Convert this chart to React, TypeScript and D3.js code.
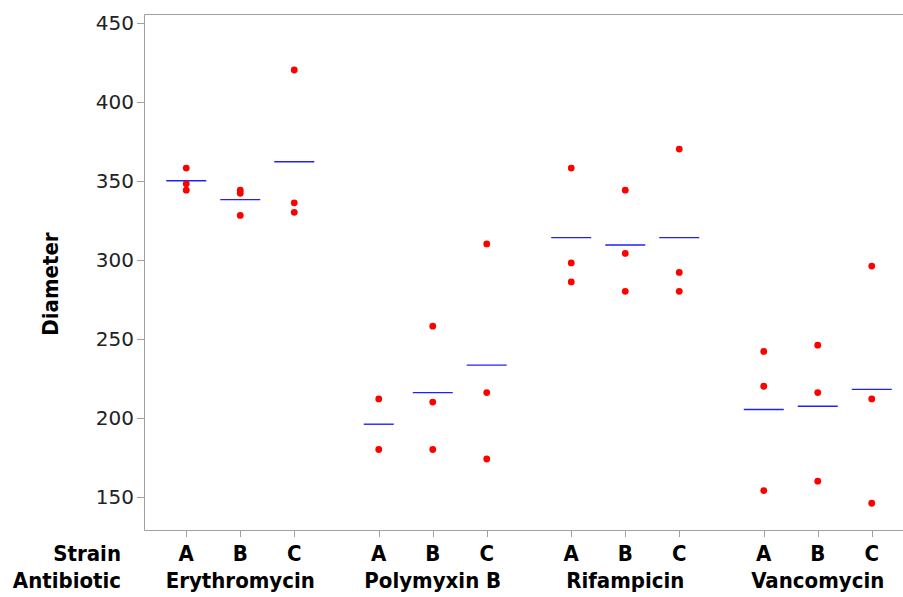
import React, { useEffect, useRef } from 'react';
import * as d3 from 'd3';

const antibiotics = ['Erythromycin', 'Polymyxin B', 'Rifampicin', 'Vancomycin'];
const strains = ['A', 'B', 'C'];

// diameter readings per antibiotic, per strain
const erythromycin = [[358, 348, 344], [344, 342, 328], [420, 336, 330]];
const polymyxinB = [[212, 180], [258, 210, 180], [310, 216, 174]];
const rifampicin = [[358, 298, 286], [344, 304, 280], [370, 292, 280]];
const vancomycin = [[242, 220, 154], [246, 216, 160], [296, 212, 146]];

const yTicks = [150, 200, 250, 300, 350, 400, 450];

const App = () => {
  const svgRef = useRef<SVGSVGElement>(null);

  useEffect(() => {
    document.body.style.margin = '0';
    const W = 903;
    const margin = { top: 14, left: 144, bottom: 530 };

    const svg = d3.select(svgRef.current);
    svg.selectAll('*').remove();

    const readings = [erythromycin, polymyxinB, rifampicin, vancomycin];
    const rows: { ab: string; strain: string; values: number[] }[] = [];
    antibiotics.forEach((ab, i) => {
      strains.forEach((s, j) => rows.push({ ab, strain: s, values: readings[i][j] }));
    });

    const y = d3.scaleLinear().domain([129.1, 455.4]).range([margin.bottom, margin.top]);
    const xGroup = d3.scaleBand().domain(antibiotics).range([margin.left, margin.left + 4 * 192.5]);
    const xStrain = d3.scalePoint().domain(strains).range([-54, 54]);
    const xPos = (ab: string, s: string) => xGroup(ab)! + xGroup.bandwidth() / 2 + xStrain(s)!;

    const font = 'DejaVu Sans, Verdana, sans-serif';
    const condensed = '"DejaVu Sans Condensed", "DejaVu Sans", sans-serif';
    const frame = '#a0a0a0';

    // frame: top, left and bottom (no right edge)
    svg.append('path')
      .attr('d', `M${W},${margin.top + 0.5}H${margin.left + 0.5}V${margin.bottom + 0.5}H${W}`)
      .attr('fill', 'none')
      .attr('stroke', frame)
      .attr('stroke-width', 1);

    // y axis ticks + labels
    const yAxis = svg.append('g');
    yAxis.selectAll('line').data(yTicks).enter().append('line')
      .attr('x1', margin.left - 7).attr('x2', margin.left)
      .attr('y1', d => Math.round(y(d)) + 0.5).attr('y2', d => Math.round(y(d)) + 0.5)
      .attr('stroke', frame);
    yAxis.selectAll('text').data(yTicks).enter().append('text')
      .attr('x', margin.left - 10).attr('y', d => y(d))
      .attr('dy', '0.36em')
      .attr('text-anchor', 'end')
      .attr('font-family', font).attr('font-size', 20).attr('fill', '#222')
      .text(d => d);

    const label = (sel: any, size: number) => sel
      .attr('font-family', condensed).attr('font-stretch', 'condensed')
      .attr('font-size', size).attr('font-weight', 'bold').attr('fill', '#000');

    svg.append('text')
      .attr('transform', `translate(58,${284}) rotate(-90)`)
      .attr('text-anchor', 'middle')
      .call(label, 22)
      .text('Diameter');

    // x ticks
    svg.selectAll('.xtick').data(rows).enter().append('line')
      .attr('class', 'xtick')
      .attr('x1', d => Math.round(xPos(d.ab, d.strain)) + 0.5)
      .attr('x2', d => Math.round(xPos(d.ab, d.strain)) + 0.5)
      .attr('y1', margin.bottom).attr('y2', margin.bottom + 7)
      .attr('stroke', frame);

    svg.selectAll('.strain').data(rows).enter().append('text')
      .attr('class', 'strain')
      .attr('x', d => xPos(d.ab, d.strain)).attr('y', 561)
      .attr('text-anchor', 'middle')
      .call(label, 22)
      .text(d => d.strain);

    svg.selectAll('.ab').data(antibiotics).enter().append('text')
      .attr('class', 'ab')
      .attr('x', d => xGroup(d)! + xGroup.bandwidth() / 2).attr('y', 588)
      .attr('text-anchor', 'middle')
      .call(label, 22)
      .text(d => d);

    svg.append('text').attr('x', 121).attr('y', 561).attr('text-anchor', 'end')
      .call(label, 22)
      .text('Strain');
    svg.append('text').attr('x', 121).attr('y', 588).attr('text-anchor', 'end')
      .call(label, 22)
      .text('Antibiotic');

    // mean lines
    svg.selectAll('.mean').data(rows).enter().append('line')
      .attr('class', 'mean')
      .attr('x1', d => xPos(d.ab, d.strain) - (d.values.length < 3 ? 15 : 20))
      .attr('x2', d => xPos(d.ab, d.strain) + (d.values.length < 3 ? 15 : 20))
      .attr('y1', d => y(d3.mean(d.values)!)).attr('y2', d => y(d3.mean(d.values)!))
      .attr('stroke', '#2020ff').attr('stroke-width', 1.4);

    // points
    const pts = rows.flatMap(r => r.values.map(v => ({ ab: r.ab, strain: r.strain, v })));
    svg.selectAll('.pt').data(pts).enter().append('circle')
      .attr('class', 'pt')
      .attr('cx', d => xPos(d.ab, d.strain)).attr('cy', d => y(d.v))
      .attr('r', 3.4)
      .attr('fill', '#ff0000');
  }, []);

  return (
    <div style={{ width: 903, height: 597 }}>
      <svg ref={svgRef} width={903} height={597} style={{ display: 'block', background: '#fff' }}></svg>
    </div>
  );
};

export default App;
